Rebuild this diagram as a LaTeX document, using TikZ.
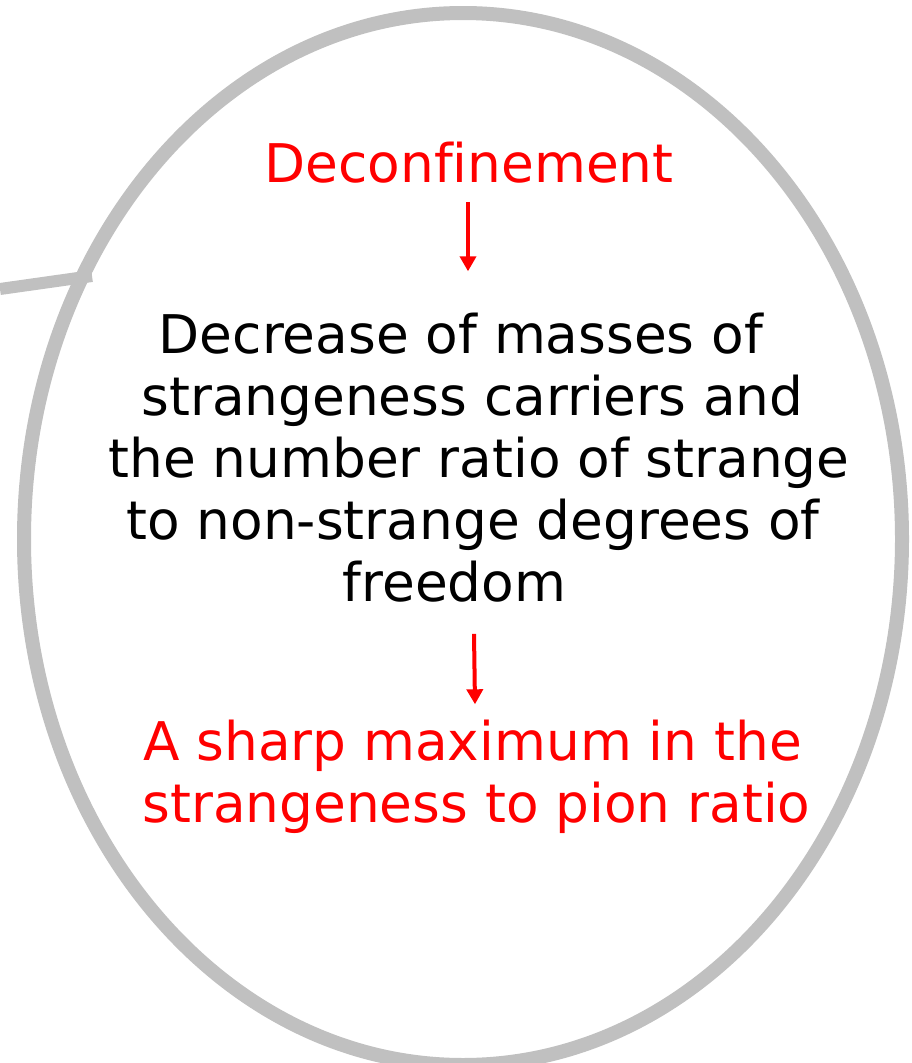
\documentclass[tikz,border=0pt]{standalone}
\usepackage{fontspec}
\setmainfont[Ligatures=NoCommon]{DejaVu Sans}
\usetikzlibrary{arrows.meta}
\definecolor{ringgray}{HTML}{C0C0C0}
\definecolor{pured}{HTML}{FF0000}
\tikzset{
  txt/.style={anchor=base, inner sep=0pt, font=\fontsize{53.3}{62}\selectfont},
  redtxt/.style={txt, text=pured},
  blacktxt/.style={txt, text=black},
  redarrow/.style={draw=pured, line width=4pt, -{Triangle[length=15pt,width=16pt]}},
  ring/.style={draw=ringgray, line width=14pt},
  stub/.style={draw=ringgray, line width=12pt, line cap=butt}
}
\begin{document}
\begin{tikzpicture}[x=1pt,y=-1pt]
\useasboundingbox (0,0) rectangle (912,1063);
\clip (0,0) rectangle (912,1063);
\fill[white] (0,0) rectangle (912,1063);
\draw[ring] (463,539) ellipse [x radius=439pt, y radius=526pt];
\coordinate (stubL) at (0,289);
\coordinate (stubR) at (92,276);
\draw[stub] (stubL) -- (stubR);
\node[redtxt] (deconf) at (469,182) {Deconfinement};
\node[blacktxt] (l1) at (461,353) {Decrease of masses of};
\node[blacktxt] (l2) at (472.5,415) {strangeness carriers and};
\node[blacktxt] (l3) at (479,477) {the number ratio of strange};
\node[blacktxt] (l4) at (473,539) {to non-strange degrees of};
\node[blacktxt] (l5) at (454.5,601) {freedom};
\node[redtxt] (r1) at (472.5,760) {A sharp maximum in the};
\node[redtxt] (r2) at (476.5,822) {strangeness to pion ratio};
\draw[redarrow] ([xshift=-1pt,yshift=-19pt]deconf.south) -- ([xshift=7pt,yshift=41pt]l1.north);
\draw[redarrow] ([xshift=19.5pt,yshift=-32pt]l5.south) -- ([xshift=2.5pt,yshift=15pt]r1.north);
\end{tikzpicture}
\end{document}
